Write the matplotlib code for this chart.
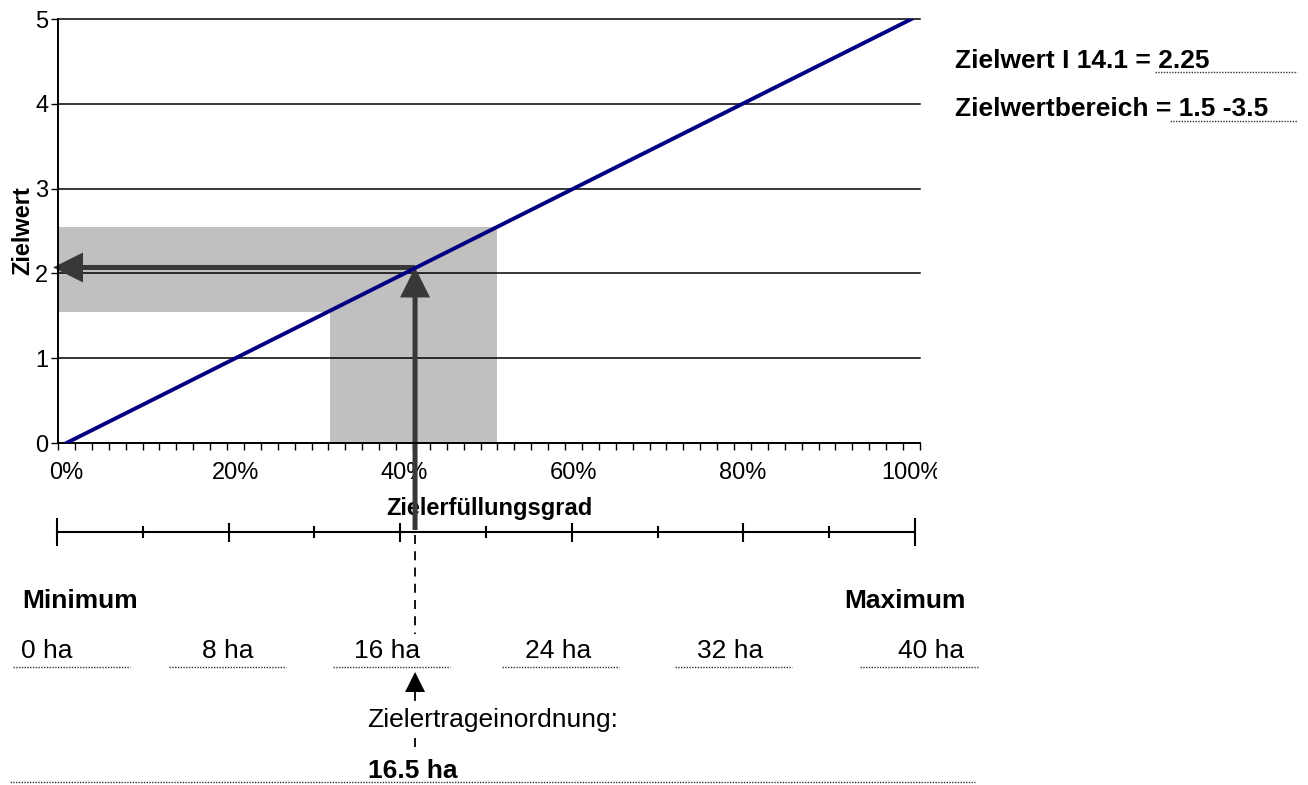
import numpy as np
import matplotlib.pyplot as plt
from matplotlib.patches import Rectangle, FancyArrow, Polygon
from matplotlib.transforms import Bbox

plt.rcParams['font.family'] = ['Liberation Sans', 'DejaVu Sans']

# Zielerfuellungsgrad (%) -> Zielwert
erfuellung_pct = [0, 20, 40, 60, 80, 100]
zielwert = [0, 1, 2, 3, 4, 5]
pct_labels = ['0%', '20%', '40%', '60%', '80%', '100%']
y_ticks = [0, 1, 2, 3, 4, 5]

# grey bands and the reading arrows, as drawn
band_wert = [1.55, 2.55]
band_pct = [31.2, 50.9]
ergebnis_pct = 41.25
ergebnis_wert = 2.07

# hectare scale under the chart
ha_major = [0, 8, 16, 24, 32, 40]
ha_minor = [4, 12, 20, 28, 36]
ha_labels = ['0 ha', '8 ha', '16 ha', '24 ha', '32 ha', '40 ha']

W, H = 1308, 785
fig = plt.figure(figsize=(W / 100, H / 100), dpi=100)

# main chart, placed in pixels
x0, x1, ytop, ybot = 58, 920, 19, 443
ax = fig.add_axes([x0 / W, 1 - ybot / H, (x1 - x0) / W, (ybot - ytop) / H])
ax.set_xlim(-1, 101)
ax.set_ylim(0, 5)
px_x = (x1 - x0) / 102.0   # pixels per %
px_y = (ybot - ytop) / 5.0  # pixels per unit

for v in y_ticks[1:]:
    ax.axhline(v, color='black', lw=1.1, clip_on=False, zorder=1)

ax.add_patch(Rectangle((-1, band_wert[0]), band_pct[0] + 1, band_wert[1] - band_wert[0],
                       fc='#c0c0c0', ec='none', zorder=0.5))
ax.add_patch(Rectangle((band_pct[0], 0), band_pct[1] - band_pct[0], band_wert[1],
                       fc='#c0c0c0', ec='none', zorder=0.5))

ax.plot(erfuellung_pct, zielwert, color='#000080', lw=2.8, zorder=3)

# dark arrows
arrow_col = '#383838'
tail_px = 530
y_tail = (ybot - tail_px) / px_y
ax.add_patch(FancyArrow(ergebnis_pct, y_tail, 0, ergebnis_wert - y_tail,
                        width=5 / px_x, head_width=30 / px_x, head_length=30 / px_y,
                        length_includes_head=True, color=arrow_col, lw=0,
                        clip_on=False, zorder=2))
x_tip = -1 - 5 / px_x
ax.add_patch(FancyArrow(ergebnis_pct, ergebnis_wert, x_tip - ergebnis_pct, 0,
                        width=5 / px_y, head_width=30 / px_y, head_length=30 / px_x,
                        length_includes_head=True, color=arrow_col, lw=0,
                        clip_on=False, zorder=2))

for s in ['top', 'right']:
    ax.spines[s].set_visible(False)
for s in ['left', 'bottom']:
    ax.spines[s].set_linewidth(1.4)

ax.set_xticks(erfuellung_pct)
ax.set_xticklabels(pct_labels, fontsize=17)
ax.set_xticks(np.arange(-1, 102, 2), minor=True)
ax.tick_params(axis='x', which='major', length=0, pad=14)
ax.tick_params(axis='x', which='minor', length=5, width=1, direction='out')
ax.set_yticks(y_ticks)
ax.set_yticklabels([str(v) for v in y_ticks], fontsize=17)
ax.tick_params(axis='y', length=5, width=1, pad=2)
ax.set_xlabel('Zielerfüllungsgrad', fontsize=17, fontweight='bold', labelpad=9)
ax.set_ylabel('Zielwert', fontsize=17, fontweight='bold', labelpad=1)

lbl = ax.xaxis.get_major_ticks()[-1].label1
lbl.set_clip_box(Bbox.from_extents(0, 0, 937, H))
lbl.set_clip_on(True)

# hectare scale bar
sx0, sx1, sy = 57, 915, 532
ax2 = fig.add_axes([sx0 / W, 1 - (sy + 14) / H, (sx1 - sx0) / W, 28 / H])
ax2.set_xlim(ha_major[0], ha_major[-1])
ax2.set_ylim(-14, 14)
ax2.axis('off')
ax2.plot([ha_major[0], ha_major[-1]], [0, 0], color='black', lw=1.5, clip_on=False)
ax2.vlines(ha_major[1:-1], -9.5, 9.5, color='black', lw=1.5, clip_on=False)
ax2.vlines([ha_major[0], ha_major[-1]], -14, 14, color='black', lw=1.5, clip_on=False)
ax2.vlines(ha_minor, -6, 6, color='black', lw=1.5, clip_on=False)

# overlay in pixel coordinates for the text blocks
ov = fig.add_axes([0, 0, 1, 1], zorder=-1)
ov.set_xlim(0, W)
ov.set_ylim(H, 0)
ov.axis('off')

fig.canvas.draw()
ax_px = ax.transData.transform((ergebnis_pct, 0))[0]

big = 19
ov.text(955, 61, 'Zielwert I 14.1 = 2.25', fontsize=big, fontweight='bold', va='center')
ov.text(955, 109, 'Zielwertbereich = 1.5 -3.5', fontsize=big, fontweight='bold', va='center')
ov.plot([1155, 1297], [72, 72], color='#333333', lw=1, ls=(0, (1, 1)))
ov.plot([1170, 1297], [121, 121], color='#333333', lw=1, ls=(0, (1, 1)))

ov.text(22, 601, 'Minimum', fontsize=big, fontweight='bold', va='center', ha='left')
ov.text(966, 601, 'Maximum', fontsize=big, fontweight='bold', va='center', ha='right')

label_x = [47, 228, 387, 558, 730, 931]
under = [(13, 130), (169, 286), (333, 450), (502, 619), (675, 792), (860, 978)]
for lx, t, (u0, u1) in zip(label_x, ha_labels, under):
    ov.text(lx, 651, t, fontsize=big, ha='center', va='center')
    ov.plot([u0, u1], [667, 667], color='#333333', lw=1, ls=(0, (1, 1)))

ov.plot([ax_px, ax_px], [535, 634], color='black', lw=1.3, ls=(0, (5, 4)))
ov.add_patch(Polygon([[ax_px, 672], [ax_px - 10, 692], [ax_px + 10, 692]],
                     closed=True, color='black', lw=0))
ov.plot([ax_px, ax_px], [692, 700], color='black', lw=1.3)
ov.text(367, 720, 'Zielertrageinordnung:', fontsize=big, ha='left', va='center')
ov.plot([ax_px, ax_px], [738, 754], color='black', lw=1.3, ls=(0, (5, 4)))
ov.text(368, 771, '16.5 ha', fontsize=big, fontweight='bold', ha='left', va='center')
ov.plot([10, 975], [782, 782], color='#333333', lw=1, ls=(0, (1, 1)))

fig.savefig('out.png', dpi=100)
